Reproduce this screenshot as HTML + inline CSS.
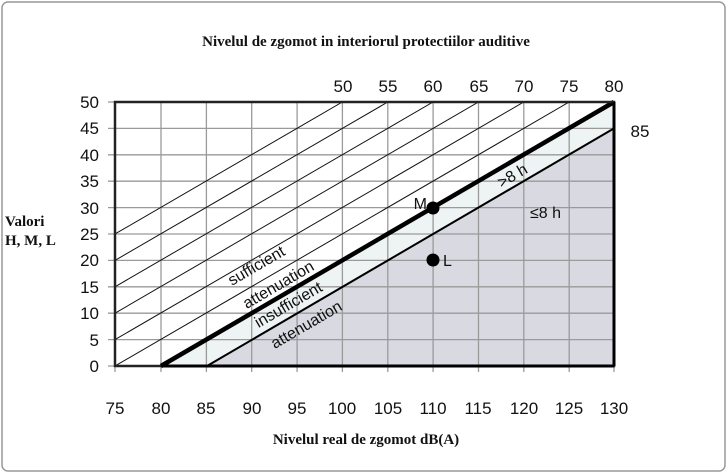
<!DOCTYPE html>
<html><head><meta charset="utf-8"><style>
html,body{margin:0;padding:0;background:#fff;}
svg{display:block;}
</style></head><body>
<svg width="728" height="474" xmlns="http://www.w3.org/2000/svg">
<rect x="2" y="2" width="723" height="469" rx="6" fill="#fff" stroke="#999" stroke-width="1.5"/>
<defs><clipPath id="c"><rect x="115" y="102" width="499" height="264"/></clipPath></defs>
<polygon points="161,366 614,102 614,128.4 207,366" fill="#eef3f3"/>
<polygon points="207,366 614,128.4 614,366" fill="#d9d9e1"/>
<g stroke="#9a9a9a" stroke-width="1.3">
<line x1="161" y1="102" x2="161" y2="372"/><line x1="206.4" y1="102" x2="206.4" y2="372"/>
<line x1="251.7" y1="102" x2="251.7" y2="372"/><line x1="297.1" y1="102" x2="297.1" y2="372"/>
<line x1="342.4" y1="102" x2="342.4" y2="372"/><line x1="387.8" y1="102" x2="387.8" y2="372"/>
<line x1="433.1" y1="102" x2="433.1" y2="372"/><line x1="478.5" y1="102" x2="478.5" y2="372"/>
<line x1="523.8" y1="102" x2="523.8" y2="372"/><line x1="569.2" y1="102" x2="569.2" y2="372"/>
<line x1="115" y1="372" x2="115" y2="366"/><line x1="614" y1="372" x2="614" y2="366"/>
<line x1="108" y1="128.4" x2="614" y2="128.4"/><line x1="108" y1="154.8" x2="614" y2="154.8"/>
<line x1="108" y1="181.2" x2="614" y2="181.2"/><line x1="108" y1="207.6" x2="614" y2="207.6"/>
<line x1="108" y1="234" x2="614" y2="234"/><line x1="108" y1="260.4" x2="614" y2="260.4"/>
<line x1="108" y1="286.8" x2="614" y2="286.8"/><line x1="108" y1="313.2" x2="614" y2="313.2"/>
<line x1="108" y1="339.6" x2="614" y2="339.6"/>
<line x1="108" y1="102" x2="115" y2="102"/><line x1="108" y1="366" x2="115" y2="366"/>
</g>
<g clip-path="url(#c)" stroke="#111" stroke-width="1">
<line x1="115" y1="234" x2="342.4" y2="102"/>
<line x1="115" y1="260.4" x2="387.8" y2="102"/>
<line x1="115" y1="286.8" x2="433.1" y2="102"/>
<line x1="115" y1="313.2" x2="478.5" y2="102"/>
<line x1="115" y1="339.6" x2="523.8" y2="102"/>
<line x1="115" y1="366" x2="569.2" y2="102"/>
</g>
<line x1="161" y1="366" x2="614" y2="102" stroke="#000" stroke-width="4.5"/>
<line x1="207" y1="366" x2="614" y2="128.4" stroke="#000" stroke-width="2"/>
<rect x="115" y="102" width="499" height="264" fill="none" stroke="#222" stroke-width="2.5"/>
<line x1="161" y1="366" x2="614" y2="366" stroke="#000" stroke-width="3"/>
<line x1="614" y1="102" x2="614" y2="366" stroke="#000" stroke-width="3"/>
<circle cx="433" cy="208" r="6.5" fill="#000"/>
<circle cx="433" cy="260" r="6.5" fill="#000"/>
<g font-family="Liberation Sans, sans-serif" font-size="16" fill="#111">
<text x="427" y="209" text-anchor="end">M</text>
<text x="443" y="266">L</text>
<text x="530" y="218">≤8 h</text>
<g transform="rotate(-30.2 256 265)"><text x="256" y="271" text-anchor="middle">sufficient</text></g>
<g transform="rotate(-30.2 278 284)"><text x="278" y="290" text-anchor="middle">attenuation</text></g>
<g transform="rotate(-30.2 288 304)"><text x="288" y="310" text-anchor="middle">insufficient</text></g>
<g transform="rotate(-30.2 306 324)"><text x="306" y="330" text-anchor="middle">attenuation</text></g>
<g transform="rotate(-30.2 512 175)"><text x="512" y="181" text-anchor="middle">&gt;8 h</text></g>
</g>
<g font-family="Liberation Sans, sans-serif" font-size="17" fill="#111" text-anchor="end">
<text x="99" y="108">50</text><text x="99" y="134">45</text><text x="99" y="161">40</text>
<text x="99" y="187">35</text><text x="99" y="214">30</text><text x="99" y="240">25</text>
<text x="99" y="266">20</text><text x="99" y="293">15</text><text x="99" y="319">10</text>
<text x="99" y="346">5</text><text x="99" y="372">0</text>
</g>
<g font-family="Liberation Sans, sans-serif" font-size="17" fill="#111" text-anchor="middle">
<text x="115" y="414">75</text><text x="161" y="414">80</text><text x="206" y="414">85</text>
<text x="252" y="414">90</text><text x="297" y="414">95</text><text x="342" y="414">100</text>
<text x="388" y="414">105</text><text x="433" y="414">110</text><text x="478" y="414">115</text>
<text x="524" y="414">120</text><text x="569" y="414">125</text><text x="614" y="414">130</text>
<text x="343" y="92">50</text><text x="388" y="92">55</text><text x="433" y="92">60</text>
<text x="479" y="92">65</text><text x="524" y="92">70</text><text x="569" y="92">75</text>
<text x="614" y="92">80</text><text x="640" y="137">85</text>
</g>
<g font-family="Liberation Serif, serif" font-weight="bold" font-size="15" fill="#111">
<text x="366" y="46" text-anchor="middle">Nivelul de zgomot in interiorul protectiilor auditive</text>
<text x="366" y="444" text-anchor="middle">Nivelul real de zgomot dB(A)</text>
<text x="5" y="226">Valori</text>
<text x="5" y="245">H, M, L</text>
</g>
</svg>
</body></html>
